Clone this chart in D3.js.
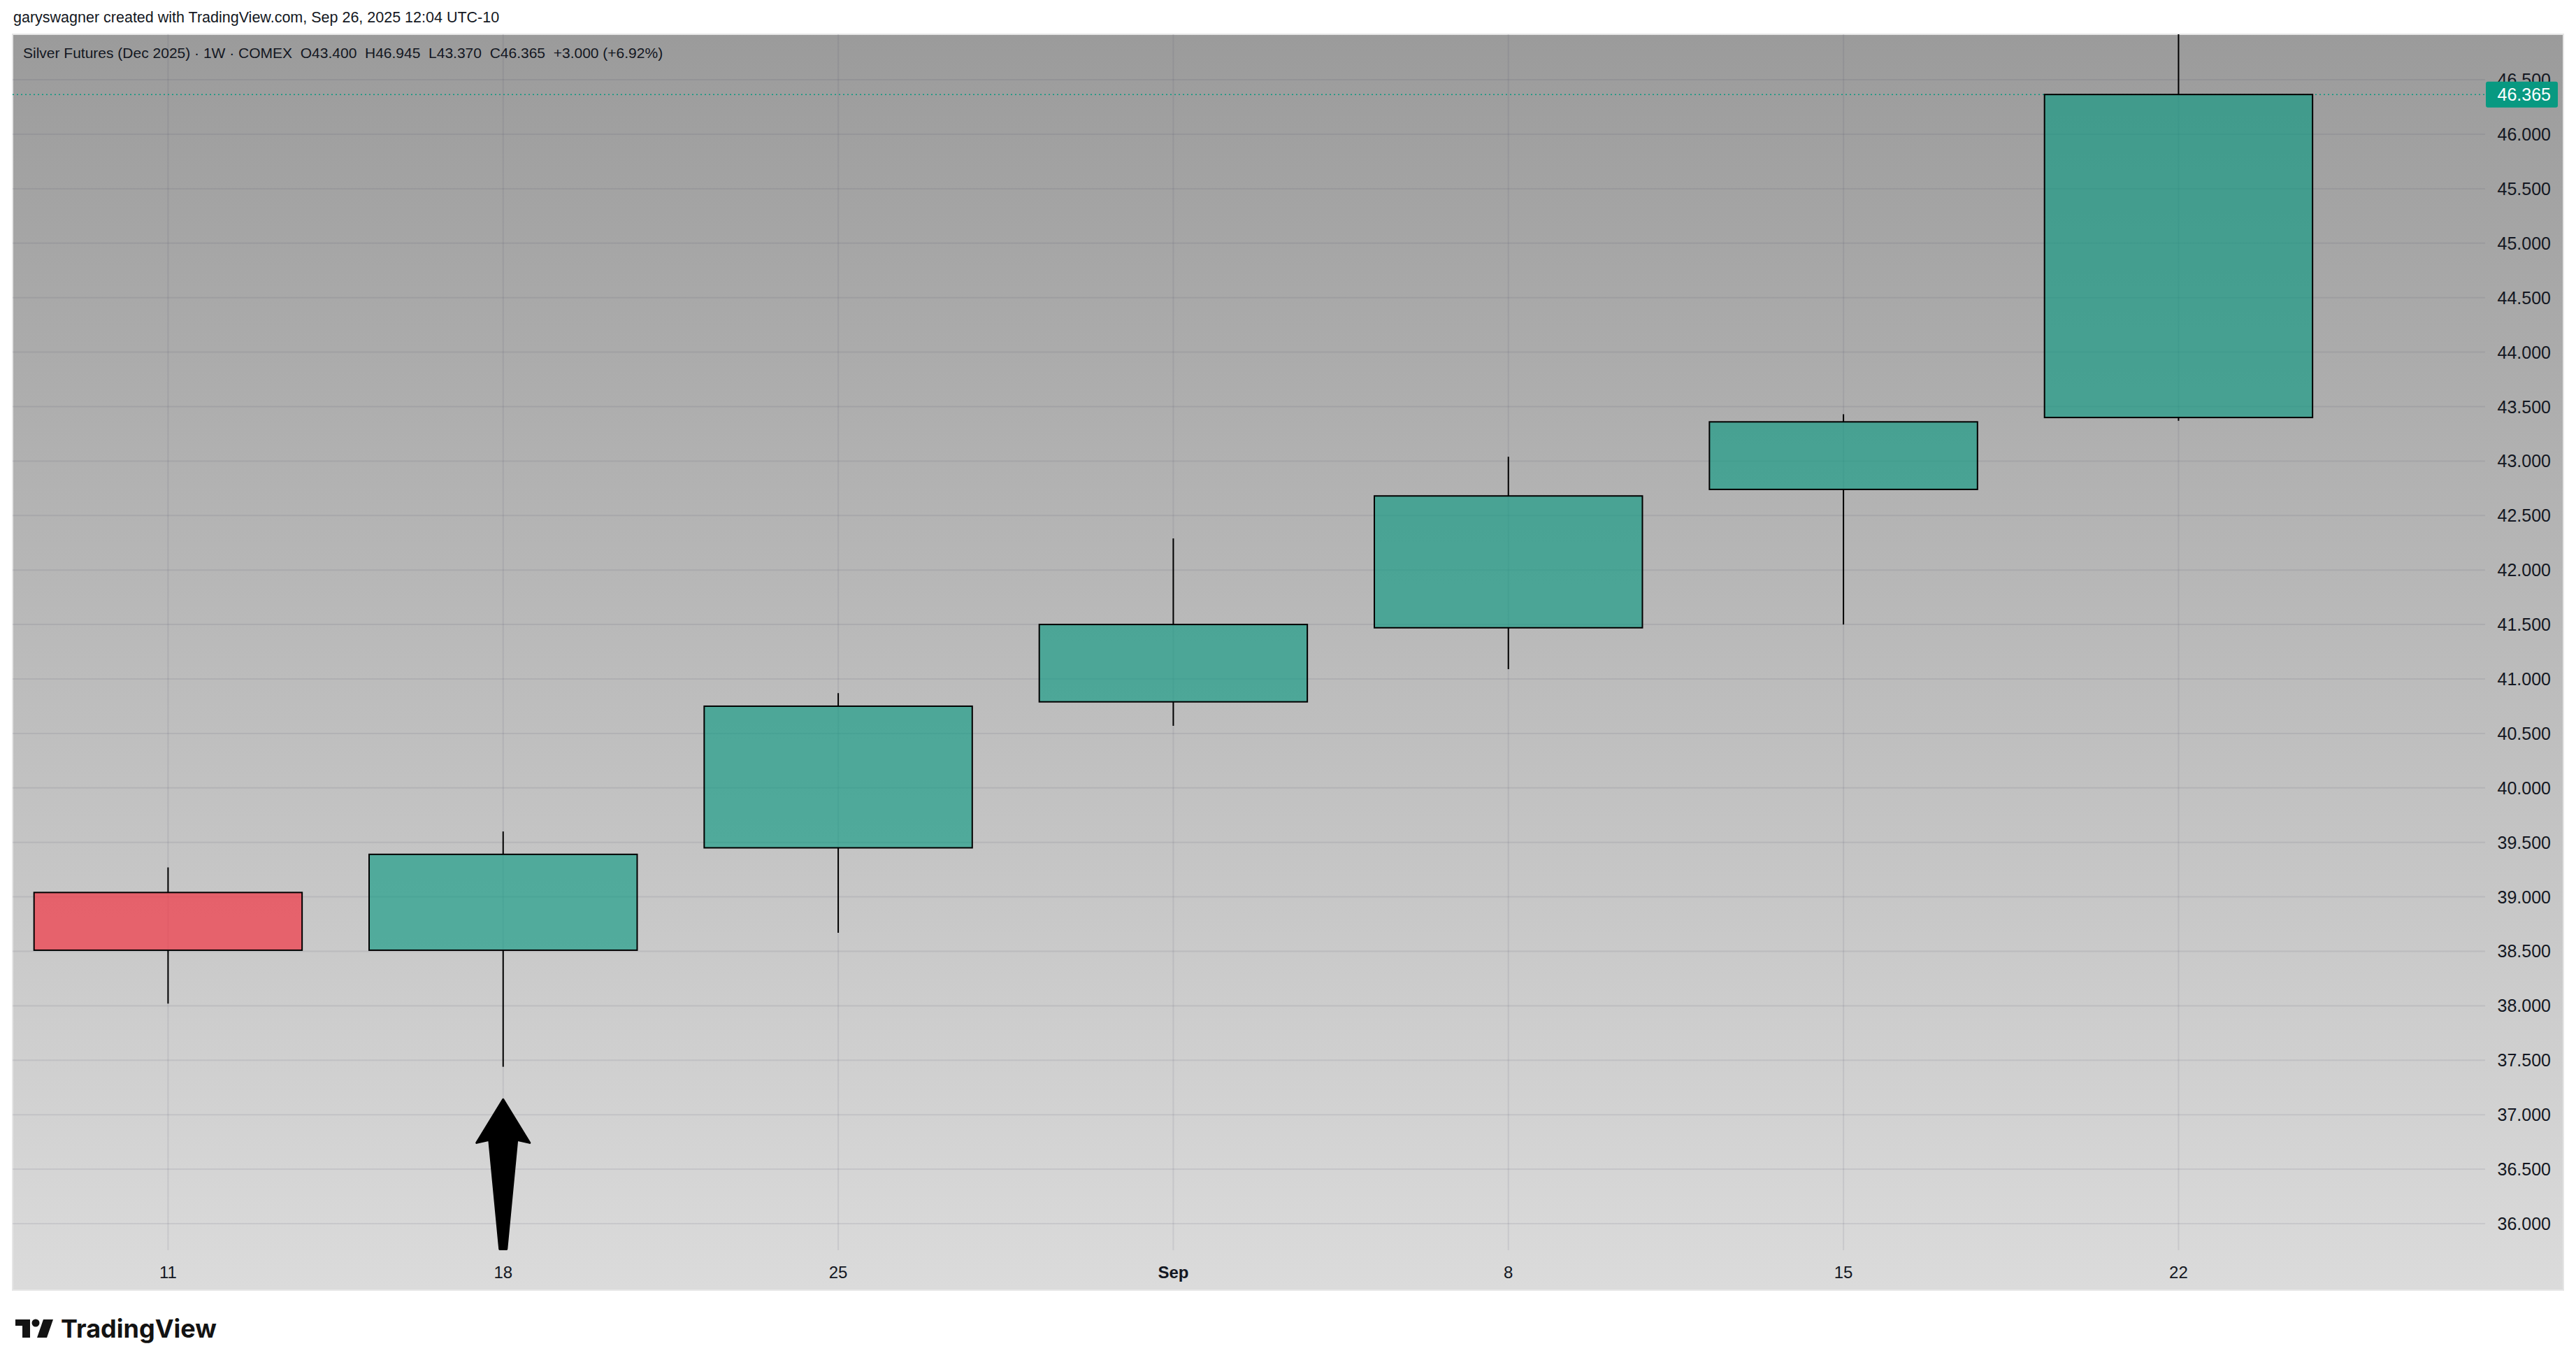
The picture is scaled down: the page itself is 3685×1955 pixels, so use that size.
<!DOCTYPE html>
<html lang="en">
<head>
    <meta charset="UTF-8">
    <title>Silver Futures (Dec 2025) 1W</title>
    <script src="https://d3js.org/d3.v7.min.js"></script>
    <style>
        html, body { margin: 0; padding: 0; background: #ffffff; }
        svg { display: block; }
    </style>
</head>
<body>
    <div id="chart"></div>

    <script>
        // Weekly candles (Aug 11 .. Sep 22, 2025)
        const weeks  = ["11", "18", "25", "Sep", "8", "15", "22"];
        const opens  = [39.04, 38.51, 39.45, 40.79, 41.47, 42.74, 43.400];
        const highs  = [39.27, 39.60, 40.87, 42.29, 43.04, 43.43, 46.945];
        const lows   = [38.02, 37.44, 38.67, 40.57, 41.09, 41.50, 43.370];
        const closes = [38.51, 39.39, 40.75, 41.50, 42.68, 43.36, 46.365];
        const priceTicks = d3.range(36, 46.5001, 0.5);
        const lastPrice = 46.365;
        const arrowWeek = 1;      // annotation arrow under the Aug 18 candle
        const arrowTip = 37.14;

        const W = 3685, H = 1955;
        const panel = { left: 18, top: 49, right: 3667, bottom: 1845 };
        const plot = { left: 18, top: 49, right: 3555, bottom: 1788 };

        const font = '"Liberation Sans", Arial, sans-serif';
        const textColor = "#131722";
        const gridColor = "rgba(70, 70, 100, 0.11)";

        const svg = d3.select("#chart")
            .append("svg")
            .attr("width", W)
            .attr("height", H);

        const defs = svg.append("defs");
        const grad = defs.append("linearGradient")
            .attr("id", "bg")
            .attr("x1", 0).attr("y1", 0).attr("x2", 0).attr("y2", 1);
        grad.append("stop").attr("offset", "0%").attr("stop-color", "#9b9b9b");
        grad.append("stop").attr("offset", "100%").attr("stop-color", "#dbdbdb");

        defs.append("clipPath").attr("id", "plotClip")
            .append("rect")
            .attr("x", plot.left).attr("y", plot.top)
            .attr("width", plot.right - plot.left)
            .attr("height", plot.bottom - plot.top);

        // scales
        const x = d3.scaleLinear()
            .domain([-0.464, 6.915])
            .range([plot.left, plot.right]);

        const y = d3.scaleLinear()
            .domain([35.756, 46.918])
            .range([plot.bottom, plot.top]);

        const step = x(1) - x(0);
        const bodyW = step * 0.8;

        // header
        svg.append("text")
            .attr("x", 19).attr("y", 26)
            .attr("dominant-baseline", "middle")
            .attr("font-family", font)
            .attr("font-size", 21.5)
            .attr("fill", "#131722")
            .text("garyswagner created with TradingView.com, Sep 26, 2025 12:04 UTC-10");

        // panel background
        svg.append("rect")
            .attr("x", panel.left).attr("y", panel.top)
            .attr("width", panel.right - panel.left)
            .attr("height", panel.bottom - panel.top)
            .attr("fill", "url(#bg)")
            .attr("stroke", "#e6e6e6")
            .attr("stroke-width", 2);

        // grid
        const grid = svg.append("g").attr("clip-path", "url(#plotClip)");
        grid.selectAll("line.h")
            .data(priceTicks)
            .join("line")
            .attr("class", "h")
            .attr("x1", plot.left).attr("x2", plot.right)
            .attr("y1", d => y(d)).attr("y2", d => y(d))
            .attr("stroke", gridColor)
            .attr("stroke-width", 2);
        grid.selectAll("line.v")
            .data(weeks)
            .join("line")
            .attr("class", "v")
            .attr("x1", (d, i) => x(i)).attr("x2", (d, i) => x(i))
            .attr("y1", plot.top).attr("y2", plot.bottom)
            .attr("stroke", gridColor)
            .attr("stroke-width", 2);

        // last price dotted line
        svg.append("line")
            .attr("x1", plot.left).attr("x2", plot.right)
            .attr("y1", y(lastPrice)).attr("y2", y(lastPrice))
            .attr("stroke", "#089981")
            .attr("stroke-width", 1.5)
            .attr("stroke-dasharray", "2,4");

        // candles
        const candles = d3.range(weeks.length).map(i => ({
            i, o: opens[i], h: highs[i], l: lows[i], c: closes[i]
        }));

        const cg = svg.append("g").attr("clip-path", "url(#plotClip)");
        // upper and lower wicks stop at the body
        cg.selectAll("line.upper")
            .data(candles)
            .join("line")
            .attr("class", "upper")
            .attr("x1", d => x(d.i)).attr("x2", d => x(d.i))
            .attr("y1", d => y(d.h)).attr("y2", d => y(Math.max(d.o, d.c)))
            .attr("stroke", "#000")
            .attr("stroke-width", 2);
        cg.selectAll("line.lower")
            .data(candles)
            .join("line")
            .attr("class", "lower")
            .attr("x1", d => x(d.i)).attr("x2", d => x(d.i))
            .attr("y1", d => y(Math.min(d.o, d.c))).attr("y2", d => y(d.l))
            .attr("stroke", "#000")
            .attr("stroke-width", 2);

        cg.selectAll("rect.body")
            .data(candles)
            .join("rect")
            .attr("class", "body")
            .attr("x", d => x(d.i) - bodyW / 2)
            .attr("width", bodyW)
            .attr("y", d => y(Math.max(d.o, d.c)))
            .attr("height", d => Math.abs(y(d.o) - y(d.c)))
            .attr("fill", d => d.c >= d.o ? "rgba(8, 153, 129, 0.62)" : "rgba(242, 54, 69, 0.7)")
            .attr("stroke", "#000")
            .attr("stroke-width", 2);

        // price axis labels
        svg.append("g")
            .selectAll("text")
            .data(priceTicks)
            .join("text")
            .attr("x", 3649)
            .attr("y", d => y(d))
            .attr("text-anchor", "end")
            .attr("dominant-baseline", "central")
            .attr("font-family", font)
            .attr("font-size", 25)
            .attr("fill", textColor)
            .text(d3.format(".3f"));

        // last price tag
        const tagH = 37;
        svg.append("rect")
            .attr("x", 3556).attr("y", y(lastPrice) - tagH / 2)
            .attr("width", 103).attr("height", tagH)
            .attr("rx", 3)
            .attr("fill", "#089981");
        svg.append("text")
            .attr("x", 3649).attr("y", y(lastPrice))
            .attr("text-anchor", "end")
            .attr("dominant-baseline", "central")
            .attr("font-family", font)
            .attr("font-size", 25)
            .attr("fill", "#ffffff")
            .text(d3.format(".3f")(lastPrice));

        // time axis labels
        svg.append("g")
            .selectAll("text")
            .data(weeks)
            .join("text")
            .attr("x", (d, i) => x(i))
            .attr("y", 1819)
            .attr("text-anchor", "middle")
            .attr("dominant-baseline", "central")
            .attr("font-family", font)
            .attr("font-size", 24)
            .attr("font-weight", d => d === "Sep" ? 700 : 400)
            .attr("fill", textColor)
            .text(d => d);

        // legend line
        svg.append("text")
            .attr("x", 33).attr("y", 75)
            .attr("dominant-baseline", "central")
            .attr("font-family", font)
            .attr("font-size", 21)
            .attr("fill", textColor)
            .attr("xml:space", "preserve")
            .text("Silver Futures (Dec 2025) \u00b7 1W \u00b7 COMEX  O43.400  H46.945  L43.370  C46.365  +3.000 (+6.92%)");

        // annotation arrow
        const ax = x(arrowWeek), ay = y(arrowTip);
        const arrow = [[0, 0], [38, 62], [20, 58], [5, 214], [-5, 214], [-20, 58], [-38, 62]];
        svg.append("path")
            .attr("d", d3.line()(arrow.map(p => [ax + p[0], ay + p[1]])) + "Z")
            .attr("fill", "#000")
            .attr("stroke", "#000")
            .attr("stroke-width", 3)
            .attr("stroke-linejoin", "round");

        // TradingView logo
        const logo = svg.append("g").attr("fill", "#131313");
        logo.append("path").attr("d", "M22,1887H43V1913H32V1896H22Z");
        logo.append("circle").attr("cx", 51).attr("cy", 1892).attr("r", 5.5);
        logo.append("path").attr("d", "M62,1887H76L67,1913H53Z");
        logo.append("text")
            .attr("x", 87).attr("y", 1913)
            .attr("font-family", "Inter, sans-serif")
            .attr("font-size", 36)
            .attr("font-weight", 700)
            .text("TradingView");
    </script>
</body>
</html>
